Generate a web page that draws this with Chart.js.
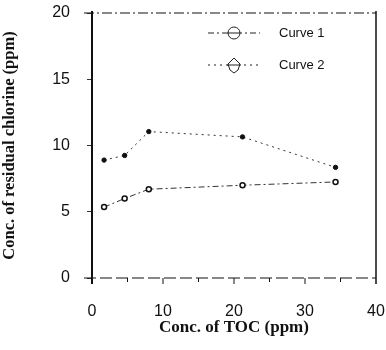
<!DOCTYPE html>
<html>
<head>
<meta charset="utf-8">
<script src="https://cdn.jsdelivr.net/npm/chart.js@4"></script>
<style>
    html, body { margin: 0; padding: 0; background: #fff; }
    #wrap { width: 386px; height: 350px; }
</style>
</head>
<body>
<div id="wrap"><canvas id="chlorineChart" width="386" height="350"></canvas></div>
<script>
// Data
const seriesNames = ["Curve 1", "Curve 2"];
const tocCurve1 = [1.7, 4.6, 8.0, 21.2, 34.3];
const chlorineCurve1 = [5.35, 6.0, 6.7, 7.0, 7.25];
const tocCurve2 = [1.7, 4.6, 8.0, 21.2, 34.3];
const chlorineCurve2 = [8.9, 9.25, 11.05, 10.65, 8.35];
const xTicks = [0, 10, 20, 30, 40];
const yTicks = [0, 5, 10, 15, 20];

const tickFont = { family: "'Liberation Sans', Arial, sans-serif", size: 16 };
const xTitleFont = { family: "'Liberation Serif', 'Times New Roman', serif", size: 17, weight: "bold" };
const yTitleFont = { family: "'Liberation Serif', 'Times New Roman', serif", size: 16.5, weight: "bold" };

// === frame, inner ticks and inside legend ===
const framePlugin = {
    id: "frame",
    afterDraw(chart) {
        const { ctx, chartArea: a, scales } = chart;
        ctx.save();
        ctx.strokeStyle = "#111";

        // left and right axes, solid
        ctx.lineWidth = 2;
        ctx.beginPath();
        ctx.moveTo(a.left, a.top - 2); ctx.lineTo(a.left, a.bottom + 6);
        ctx.stroke();
        ctx.lineWidth = 1.5;
        ctx.beginPath();
        ctx.moveTo(a.right, a.top - 2); ctx.lineTo(a.right, a.bottom + 6);
        ctx.stroke();

        // top and bottom, broken lines
        ctx.lineWidth = 1;
        ctx.setLineDash([10, 3, 2, 3]);
        ctx.beginPath();
        ctx.moveTo(a.left - 8, a.top); ctx.lineTo(a.right, a.top);
        ctx.stroke();
        ctx.setLineDash([12, 4]);
        ctx.beginPath();
        ctx.moveTo(a.left - 8, a.bottom); ctx.lineTo(a.right, a.bottom);
        ctx.stroke();
        ctx.setLineDash([]);

        // x ticks every 5 units
        for (let v = 5; v < 40; v += 5) {
            const px = scales.x.getPixelForValue(v);
            ctx.beginPath();
            ctx.moveTo(px, a.bottom);
            ctx.lineTo(px, a.bottom + (v % 10 === 0 ? 6 : 4));
            ctx.stroke();
        }

        // legend
        ctx.font = "13px 'Liberation Sans', Arial, sans-serif";
        ctx.textBaseline = "middle";
        const rows = [33, 65];
        chart.data.datasets.forEach((ds, i) => {
            const y = rows[i];
            ctx.strokeStyle = "#222";
            ctx.lineWidth = 1;
            ctx.setLineDash(ds.borderDash);
            ctx.beginPath();
            ctx.moveTo(208, y); ctx.lineTo(260, y);
            ctx.stroke();
            ctx.setLineDash([]);
            ctx.fillStyle = "#fff";
            if (i === 0) {
                ctx.beginPath();
                ctx.arc(234, y, 6, 0, Math.PI * 2);
                ctx.fill();
                ctx.stroke();
                ctx.beginPath();
                ctx.moveTo(228, y); ctx.lineTo(240, y);
                ctx.stroke();
            } else {
                ctx.beginPath();
                ctx.moveTo(234, y - 7);
                ctx.lineTo(240, y - 1);
                ctx.lineTo(238, y + 5);
                ctx.lineTo(234, y + 8);
                ctx.lineTo(230, y + 5);
                ctx.lineTo(228, y - 1);
                ctx.closePath();
                ctx.fill();
                ctx.stroke();
                ctx.beginPath();
                ctx.moveTo(227, y); ctx.lineTo(241, y);
                ctx.stroke();
            }
            ctx.fillStyle = "#111";
            ctx.fillText(ds.label, 279, y);
        });
        ctx.restore();
    }
};

const ctx = document.getElementById("chlorineChart");
new Chart(ctx, {
    type: "line",
    data: {
        datasets: [
            {
                label: seriesNames[0],
                data: tocCurve1.map((x, i) => ({ x, y: chlorineCurve1[i] })),
                borderColor: "#333",
                borderWidth: 1,
                borderDash: [6, 3, 2, 3],
                pointRadius: 2.5,
                pointBorderWidth: 1.5,
                pointBorderColor: "#111",
                pointBackgroundColor: "#fff",
                tension: 0
            },
            {
                label: seriesNames[1],
                data: tocCurve2.map((x, i) => ({ x, y: chlorineCurve2[i] })),
                borderColor: "#333",
                borderWidth: 1,
                borderDash: [2, 4],
                pointRadius: 2.2,
                pointBorderWidth: 1,
                pointBorderColor: "#111",
                pointBackgroundColor: "#111",
                tension: 0
            }
        ]
    },
    options: {
        responsive: false,
        animation: false,
        devicePixelRatio: 1,
        layout: { padding: { left: 0, right: 10, top: 13, bottom: 12 } },
        plugins: {
            legend: { display: false },
            tooltip: { enabled: false }
        },
        scales: {
            x: {
                type: "linear",
                min: 0,
                max: 40,
                afterBuildTicks: s => { s.ticks = xTicks.map(v => ({ value: v })); },
                afterFit: s => { s.height = 60; s.paddingLeft = 0; s.paddingRight = 0; },
                grid: { display: false, drawTicks: false },
                border: { display: false },
                ticks: { font: tickFont, color: "#111", padding: 24 },
                title: {
                    display: true,
                    text: "Conc. of TOC (ppm)",
                    font: xTitleFont,
                    color: "#111",
                    padding: { top: 0, bottom: 0 }
                }
            },
            y: {
                type: "linear",
                min: 0,
                max: 20,
                afterBuildTicks: s => { s.ticks = yTicks.map(v => ({ value: v })); },
                afterFit: s => { s.width = 92; s.paddingTop = 0; s.paddingBottom = 0; },
                grid: { drawOnChartArea: false, drawTicks: true, tickLength: 5, color: "#333" },
                border: { display: false },
                ticks: { font: tickFont, color: "#111", padding: 17 },
                title: {
                    display: true,
                    text: "Conc. of residual chlorine (ppm)",
                    font: yTitleFont,
                    color: "#111",
                    padding: { top: 0, bottom: 2 }
                }
            }
        }
    },
    plugins: [framePlugin]
});
</script>
</body>
</html>
